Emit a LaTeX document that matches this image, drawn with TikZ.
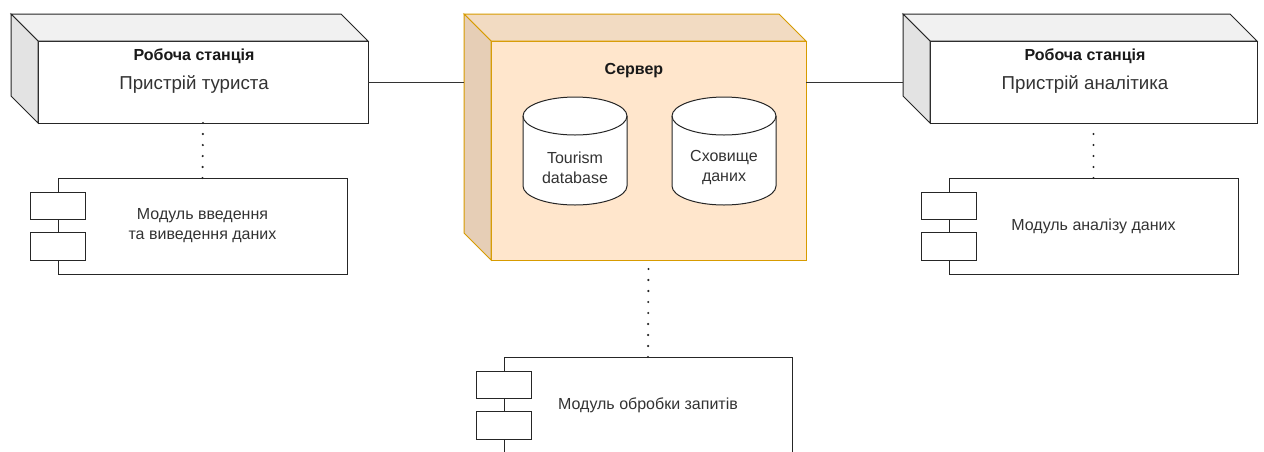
\documentclass[tikz,border=0pt]{standalone}
\usepackage{fontspec}
\setmainfont{Liberation Sans}
\usetikzlibrary{calc}

\definecolor{srvfill}{HTML}{FFE6CC}
\definecolor{srvline}{HTML}{D79B00}
\definecolor{srvtop}{HTML}{F2DBC2}
\definecolor{srvside}{HTML}{E6CEB6}
\definecolor{boxtop}{HTML}{F1F1F1}
\definecolor{boxside}{HTML}{E3E3E3}
\definecolor{txt}{HTML}{333333}

\begin{document}
\begin{tikzpicture}[x=1pt,y=-1pt,
  outline/.style={draw=black!85, line width=1pt, line join=miter},
  front/.style={outline, fill=white, inner sep=0pt, outer sep=0pt, anchor=north west},
  srvfront/.style={front, draw=srvline, fill=srvfill},
  module/.style={outline, fill=white, inner sep=0pt, outer sep=0pt, anchor=north west,
    minimum height=96, align=center, text=txt, font=\fontsize{16}{20}\selectfont},
  port/.style={outline, fill=white, inner sep=0pt, outer sep=0pt,
    minimum width=55, minimum height=27.5},
  headtext/.style={anchor=base, font=\fontsize{16}{20}\selectfont\bfseries, text=black!90},
  nametext/.style={anchor=base, font=\fontsize{18.7}{22}\selectfont, text=txt},
  dbtext/.style={align=center, font=\fontsize{16}{20}\selectfont, text=txt},
  link/.style={draw=black!80, line width=1pt},
  dep/.style={draw=black!85, line width=2.4pt, line cap=round, dash pattern=on 0pt off 11pt}
]
\useasboundingbox (0,0) rectangle (1264,451);
\clip (0,0) rectangle (1264,451);
\fill[white] (0,0) rectangle (1264,451);

% ---------- front faces of the three 3D nodes ----------
\node[front, minimum width=330, minimum height=82] (ws1) at (38,41) {};
\node[srvfront, minimum width=315, minimum height=219] (srv) at (491,41) {};
\node[front, minimum width=327, minimum height=82] (ws2) at (930,41) {};

% ---------- top and side faces (depth 27) ----------
\foreach \n/\t/\s/\l in {ws1/boxtop/boxside/black!85, ws2/boxtop/boxside/black!85, srv/srvtop/srvside/srvline}{
  \filldraw[fill=\t, draw=\l, line width=1pt, line join=miter]
    ($(\n.north west)+(-27,-27)$) -- ($(\n.north east)+(-27,-27)$)
    -- (\n.north east) -- (\n.north west) -- cycle;
  \filldraw[fill=\s, draw=\l, line width=1pt, line join=miter]
    ($(\n.north west)+(-27,-27)$) -- (\n.north west)
    -- (\n.south west) -- ($(\n.south west)+(-27,-27)$) -- cycle;
}

% ---------- labels of the workstations and the server ----------
\node[headtext] (ws1h) at (194,60) {Робоча станція};
\node[nametext] (ws1n) at (194,89) {Пристрій туриста};
\node[headtext] (ws2h) at (1085,60) {Робоча станція};
\node[nametext] (ws2n) at (1085,89) {Пристрій аналітика};
\node[headtext] (srvh) at (634,74) {Сервер};

% ---------- databases inside the server ----------
\foreach \n/\cx/\lbl in {db1/575/{Tourism\\database}, db2/724/{Сховище\\даних}}{
  \filldraw[fill=white, draw=black!85, line width=1pt]
    (\cx-52,116) -- (\cx-52,186) arc[start angle=180, end angle=360, x radius=52pt, y radius=19pt]
    -- (\cx+52,116) arc[start angle=0, end angle=180, x radius=52pt, y radius=19pt] -- cycle;
  \draw[black!85, line width=1pt]
    (\cx-52,116) arc[start angle=180, end angle=360, x radius=52pt, y radius=19pt];
  \node[dbtext] (\n) at (\cx,168) {\lbl};
}

% ---------- deployed modules ----------
\node[module, minimum width=289] (mod1) at (58,178) {Модуль введення\\та виведення даних};
\node[module, minimum width=289] (mod2) at (949,178) {Модуль аналізу даних};
\node[module, minimum width=288] (mod3) at (504,357) {Модуль обробки запитів};

\foreach \m in {mod1,mod2,mod3}{
  \node[port, anchor=north] (\m-p1) at ($(\m.north west)+(0,14)$) {};
  \node[port, anchor=south] (\m-p2) at ($(\m.south west)+(0,-14)$) {};
}

% ---------- communication links ----------
\coordinate (srvback) at ($(srv.north west)+(-27,0)$);
\coordinate (ws2back) at ($(ws2.west)+(-27,0)$);
\draw[link] (ws1.east) -- (ws1.east -| srvback);
\draw[link] (srv.east |- ws2back) -- (ws2back);

% ---------- deployment dependencies ----------
\draw[dep] (mod1.north) -- (ws1.south);
\draw[dep] (mod2.north) -- (ws2.south);
\draw[dep] (mod3.north) -- (srv.south);
\end{tikzpicture}
\end{document}
